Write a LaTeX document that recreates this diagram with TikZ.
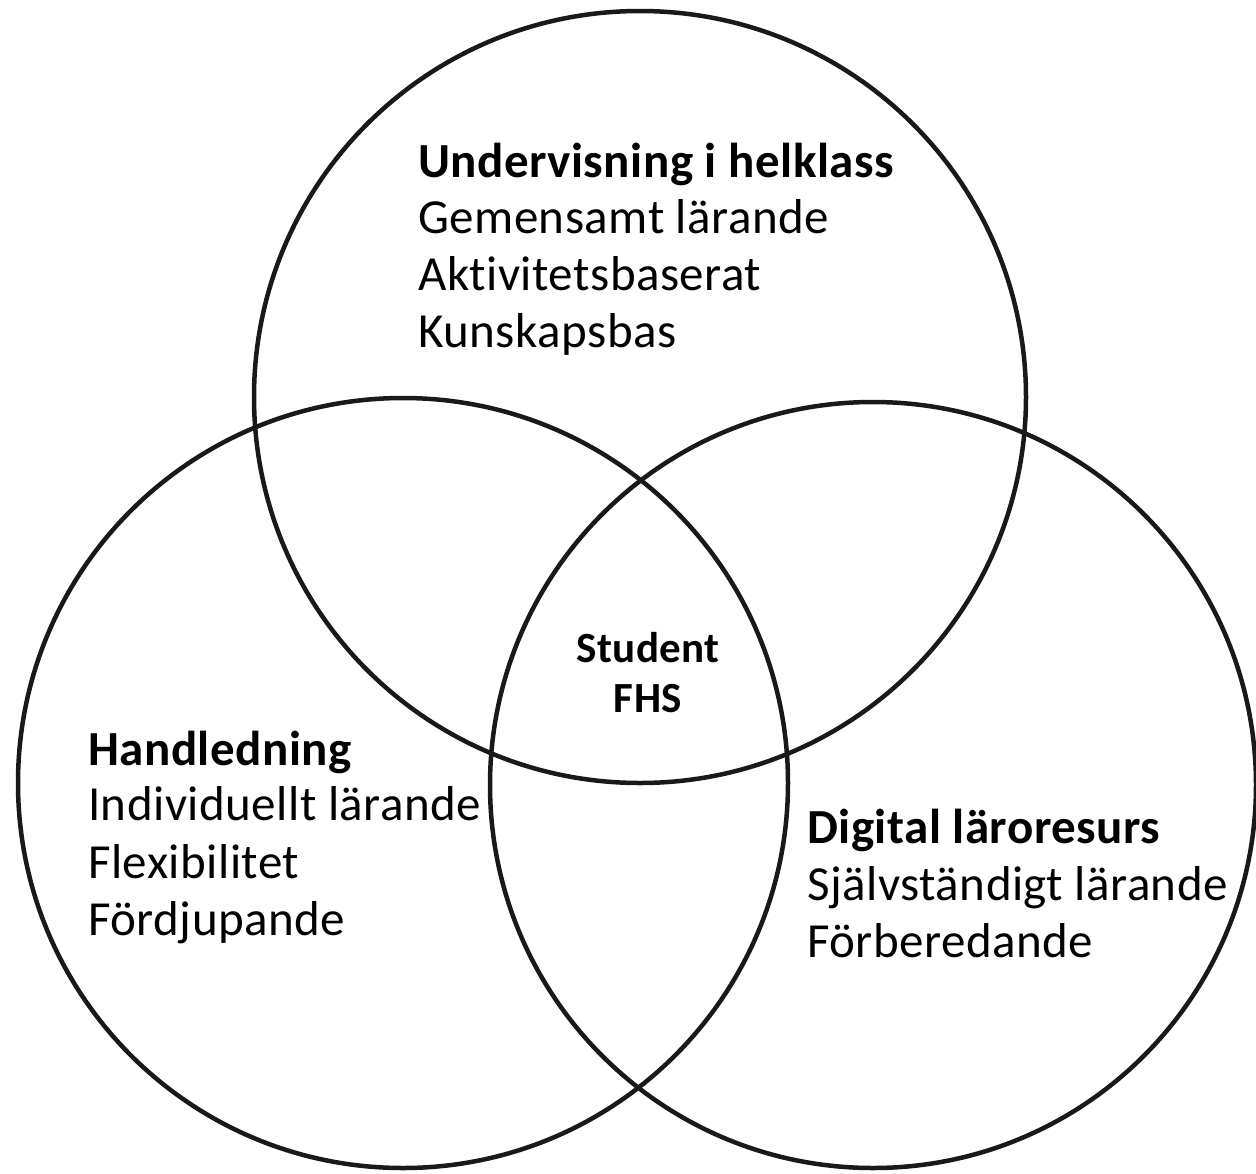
\documentclass[tikz,border=0pt]{standalone}
\usepackage{fontspec}
\setmainfont{Carlito}[Ligatures=NoCommon,LetterSpace=1]
\begin{document}
\begin{tikzpicture}[x=1pt,y=-1pt,
  ring/.style={draw=black!90,line width=4.5pt},
  lbl/.style={anchor=base west,inner sep=0pt,font=\fontsize{49}{56}\selectfont},
  head/.style={lbl,font=\fontsize{49}{56}\selectfont\bfseries},
  mid/.style={anchor=base,inner sep=0pt,font=\fontsize{43}{48}\selectfont\bfseries}]
\useasboundingbox[fill=white] (0,0) rectangle (1256,1173);
\draw[ring] (640,397) circle[radius=386];
\draw[ring] (403,783) circle[radius=385];
\draw[ring] (873,785) circle[radius=383];
% top
\node[head] (t0) at (418,177) {Undervisning i helklass};
\node[lbl] (t1) at (418,233) {Gemensamt lärande};
\node[lbl] (t2) at (418,290) {Aktivitetsbaserat};
\node[lbl] (t3) at (418,347) {Kunskapsbas};
% left
\node[head] (l0) at (88,765) {Handledning};
\node[lbl] (l1) at (88,820) {Individuellt lärande};
\node[lbl] (l2) at (88,878) {Flexibilitet};
\node[lbl] (l3) at (88,935) {Fördjupande};
% right
\node[head] (r0) at (807,843) {Digital läroresurs};
\node[lbl] (r1) at (807,900) {Självständigt lärande};
\node[lbl] (r2) at (807,957) {Förberedande};
% centre
\node[mid] (c0) at (648,662) {Student};
\node[mid] (c1) at (648,712) {FHS};
\end{tikzpicture}
\end{document}
